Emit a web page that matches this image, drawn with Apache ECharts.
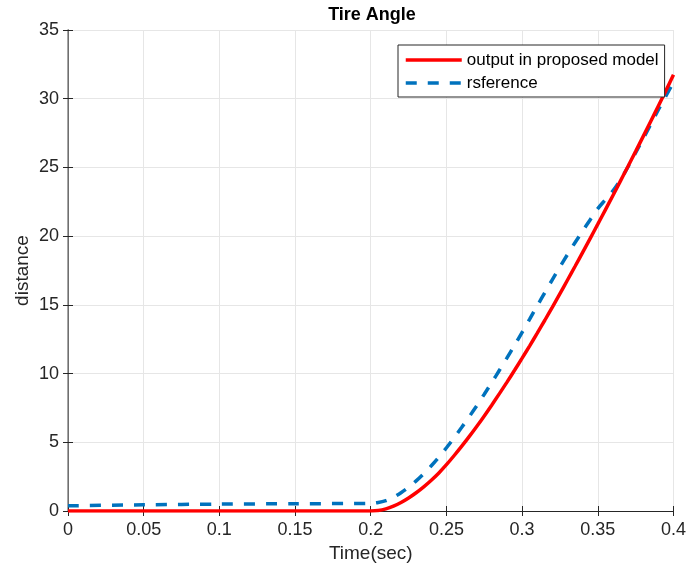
<!DOCTYPE html>
<html>
<head>
<meta charset="utf-8">
<script src="https://cdn.jsdelivr.net/npm/echarts@6/dist/echarts.min.js"></script>
<style>html,body{margin:0;padding:0;background:#fff}#c{width:689px;height:569px}</style>
</head>
<body>
<div id="c"></div>
<script>
const timeSec = [0,0.05,0.1,0.15,0.2,
  0.205,0.21,0.215,0.22,0.225,0.23,0.235,0.24,0.245,0.25,
  0.255,0.26,0.265,0.27,0.275,0.28,0.285,0.29,0.295,0.3,
  0.305,0.31,0.315,0.32,0.325,0.33,0.335,0.34,0.345,0.35,
  0.355,0.36,0.365,0.37,0.375,0.38,0.385,0.39,0.395,0.4];
const outputProposed = [0,0,0,0,0,
  0.03,0.15,0.35,0.62,0.95,1.33,1.76,2.24,2.77,3.37,
  4.02,4.70,5.41,6.15,6.92,7.72,8.54,9.38,10.24,11.12,
  12.02,12.94,13.88,14.84,15.82,16.81,17.81,18.82,19.84,20.87,
  21.91,22.96,24.02,25.09,26.17,27.26,28.36,29.47,30.59,31.75];
const reference = [0.38,0.45,0.5,0.53,0.56,
  0.62,0.76,1.0,1.33,1.73,2.19,2.71,3.29,3.92,4.6,
  5.32,6.07,6.85,7.66,8.5,9.36,10.24,11.14,12.06,13.0,
  13.96,14.93,15.89,16.84,17.77,18.67,19.54,20.38,21.2,22.0,
  22.65,23.3,24.1,25.05,26.07,27.1,28.15,29.2,30.2,31.2];
const seriesNames = ['output in proposed model','rsference'];
const titleText = 'Tire Angle';
const xName = 'Time(sec)';
const yName = 'distance';

const FONT = "'Liberation Sans', Arial, sans-serif";
const pairs = arr => timeSec.map((t,i)=>[t,arr[i]]);
const chart = echarts.init(document.getElementById('c'));
const axisCol = '#262626';
const baseX = {
  type:'value', min:0, max:0.4, interval:0.05,
  axisLine:{show:true,lineStyle:{color:axisCol,width:1}},
  axisTick:{show:true,inside:true,length:5,lineStyle:{color:axisCol}},
};
const baseY = {
  type:'value', min:0, max:35, interval:5,
  axisLine:{show:true,lineStyle:{color:axisCol,width:1}},
  axisTick:{show:true,inside:true,length:5,lineStyle:{color:axisCol}},
};
chart.setOption({
  animation:false,
  backgroundColor:'#fff',
  title:{text:titleText,left:372,textAlign:'center',top:6,padding:0,
    textStyle:{fontFamily:FONT,fontSize:18,fontWeight:'bold',color:'#000'}},
  grid:{left:68,right:13,top:30,bottom:58,containLabel:false},
  legend:{orient:'vertical',left:398,top:45,padding:[6,6,5,6],
    itemWidth:56,itemHeight:14,itemGap:5,
    itemStyle:{opacity:0},
    lineStyle:{width:3.5},
    backgroundColor:'#fff',borderColor:axisCol,borderWidth:1,borderRadius:0,
    textStyle:{fontFamily:FONT,fontSize:17,color:'#000',lineHeight:18},
    data:seriesNames},
  xAxis:[
    Object.assign({},baseX,{position:'bottom',
      name:xName,nameLocation:'middle',nameGap:33,nameMoveOverlap:false,
      nameTextStyle:{fontFamily:FONT,fontSize:19,color:axisCol},
      axisLabel:{fontFamily:FONT,fontSize:18,color:axisCol,margin:10,
        formatter:v=>String(+v.toFixed(2))},
      splitLine:{show:true,lineStyle:{color:'#e6e6e6',width:1}}}),
    Object.assign({},baseX,{position:'top',axisLabel:{show:false},splitLine:{show:false}})
  ],
  yAxis:[
    Object.assign({},baseY,{position:'left',
      name:yName,nameLocation:'middle',nameGap:36,nameMoveOverlap:false,
      nameTextStyle:{fontFamily:FONT,fontSize:19,color:axisCol},
      axisLabel:{fontFamily:FONT,fontSize:18,color:axisCol,margin:9},
      splitLine:{show:true,lineStyle:{color:'#e6e6e6',width:1}}}),
    Object.assign({},baseY,{position:'right',axisLabel:{show:false},splitLine:{show:false},
      axisLine:{show:true,lineStyle:{color:'#888',width:1.5}}})
  ],
  series:[
    {name:seriesNames[0],type:'line',data:pairs(outputProposed),symbol:'none',
      smooth:0.3,
      lineStyle:{color:'#ff0000',width:3.5},itemStyle:{color:'#ff0000'},z:3},
    {name:seriesNames[1],type:'line',data:pairs(reference),symbol:'none',
      smooth:0.3,
      lineStyle:{color:'#0072bd',width:3.5,type:[11,11]},itemStyle:{color:'#0072bd'},z:2}
  ]
});
</script>
</body>
</html>
